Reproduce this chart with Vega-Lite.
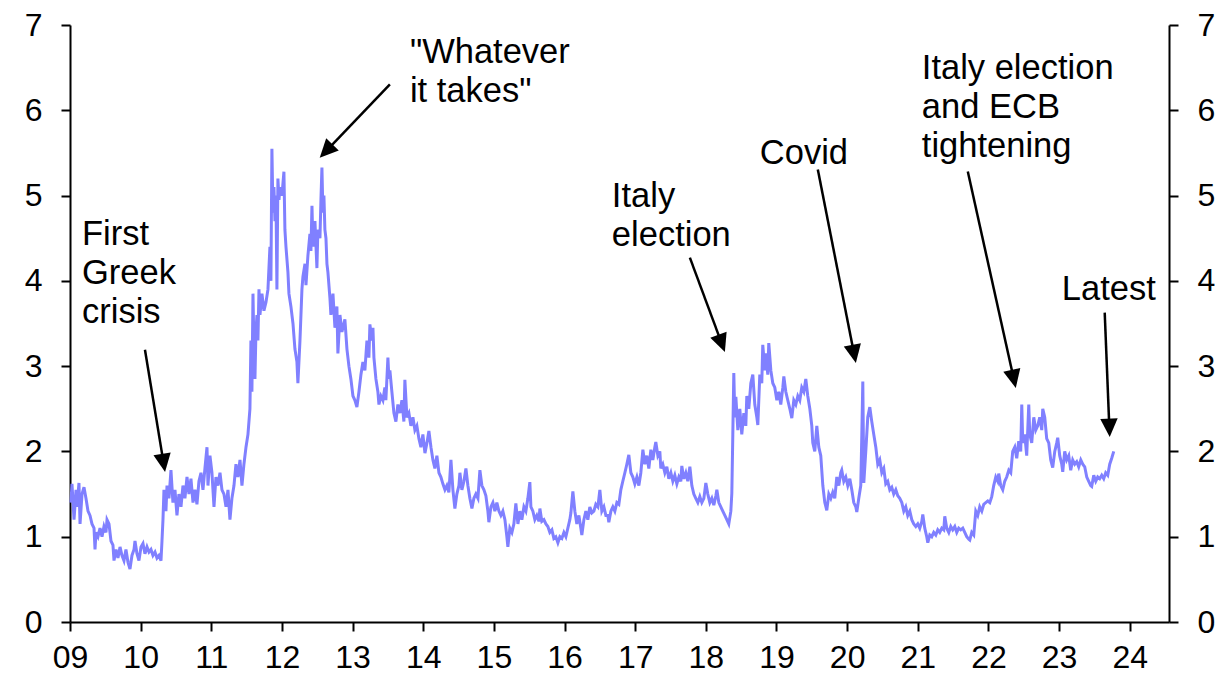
{
"$schema": "https://vega.github.io/schema/vega-lite/v6.json",
"width": 1099, "height": 597,
"autosize": {"type": "none"},
"padding": {"left": 70, "top": 25, "right": 55, "bottom": 57},
"background": "white",
"config": {"view": {"stroke": null}, "font": "Liberation Sans",
  "axis": {"domainColor": "black", "domainWidth": 2, "tickColor": "black", "tickWidth": 2, "tickSize": 9, "labelFont": "Liberation Sans", "labelFontSize": 32, "labelColor": "black", "grid": false}},
"datasets": {
"series": [
{"t":2009.014,"v":1.40},{"t":2009.028,"v":1.62},{"t":2009.057,"v":1.20},{"t":2009.085,"v":1.55},{"t":2009.099,"v":1.35},{"t":2009.127,"v":1.63},{"t":2009.142,"v":1.15},{"t":2009.170,"v":1.50},{"t":2009.198,"v":1.58},{"t":2009.226,"v":1.45},{"t":2009.255,"v":1.30},{"t":2009.283,"v":1.25},{"t":2009.311,"v":1.15},{"t":2009.340,"v":1.10},{"t":2009.354,"v":0.85},{"t":2009.368,"v":1.05},{"t":2009.396,"v":1.00},{"t":2009.425,"v":1.10},{"t":2009.453,"v":1.00},{"t":2009.481,"v":1.12},{"t":2009.509,"v":1.05},{"t":2009.524,"v":1.20},{"t":2009.552,"v":1.15},{"t":2009.580,"v":0.95},{"t":2009.608,"v":0.90},{"t":2009.623,"v":0.72},{"t":2009.651,"v":0.85},{"t":2009.679,"v":0.75},{"t":2009.708,"v":0.88},{"t":2009.736,"v":0.78},{"t":2009.764,"v":0.72},{"t":2009.792,"v":0.85},{"t":2009.821,"v":0.70},{"t":2009.849,"v":0.62},{"t":2009.877,"v":0.78},{"t":2009.906,"v":0.85},{"t":2009.920,"v":0.95},{"t":2009.948,"v":0.80},{"t":2009.976,"v":0.72},
{"t":2010.005,"v":0.88},{"t":2010.033,"v":0.92},{"t":2010.061,"v":0.80},{"t":2010.090,"v":0.88},{"t":2010.118,"v":0.82},{"t":2010.146,"v":0.85},{"t":2010.174,"v":0.78},{"t":2010.203,"v":0.82},{"t":2010.231,"v":0.75},{"t":2010.259,"v":0.78},{"t":2010.288,"v":0.72},{"t":2010.302,"v":0.95},{"t":2010.316,"v":1.20},{"t":2010.330,"v":1.55},{"t":2010.358,"v":1.30},{"t":2010.373,"v":1.60},{"t":2010.401,"v":1.45},{"t":2010.429,"v":1.78},{"t":2010.457,"v":1.40},{"t":2010.486,"v":1.55},{"t":2010.514,"v":1.25},{"t":2010.542,"v":1.50},{"t":2010.571,"v":1.35},{"t":2010.599,"v":1.60},{"t":2010.627,"v":1.45},{"t":2010.656,"v":1.70},{"t":2010.684,"v":1.50},{"t":2010.712,"v":1.68},{"t":2010.741,"v":1.40},{"t":2010.769,"v":1.55},{"t":2010.797,"v":1.38},{"t":2010.825,"v":1.65},{"t":2010.854,"v":1.75},{"t":2010.882,"v":1.55},{"t":2010.910,"v":1.80},{"t":2010.939,"v":2.05},{"t":2010.953,"v":1.60},{"t":2010.981,"v":1.95},
{"t":2011.009,"v":1.75},{"t":2011.038,"v":1.35},{"t":2011.066,"v":1.70},{"t":2011.094,"v":1.60},{"t":2011.123,"v":1.75},{"t":2011.151,"v":1.55},{"t":2011.179,"v":1.50},{"t":2011.208,"v":1.35},{"t":2011.236,"v":1.55},{"t":2011.264,"v":1.20},{"t":2011.292,"v":1.45},{"t":2011.321,"v":1.60},{"t":2011.349,"v":1.85},{"t":2011.377,"v":1.70},{"t":2011.406,"v":1.90},{"t":2011.434,"v":1.60},{"t":2011.462,"v":1.85},{"t":2011.491,"v":2.05},{"t":2011.519,"v":2.20},{"t":2011.547,"v":2.50},{"t":2011.561,"v":3.30},{"t":2011.575,"v":2.70},{"t":2011.590,"v":3.85},{"t":2011.604,"v":3.20},{"t":2011.618,"v":2.85},{"t":2011.632,"v":3.40},{"t":2011.646,"v":3.60},{"t":2011.660,"v":3.30},{"t":2011.675,"v":3.90},{"t":2011.689,"v":3.60},{"t":2011.717,"v":3.85},{"t":2011.745,"v":3.65},{"t":2011.774,"v":3.75},{"t":2011.802,"v":3.90},{"t":2011.830,"v":4.40},{"t":2011.844,"v":4.00},{"t":2011.858,"v":5.55},{"t":2011.873,"v":4.80},{"t":2011.887,"v":5.10},{"t":2011.901,"v":4.70},{"t":2011.915,"v":5.00},{"t":2011.929,"v":3.90},{"t":2011.943,"v":5.20},{"t":2011.958,"v":4.95},{"t":2011.972,"v":5.10},
{"t":2012.000,"v":5.00},{"t":2012.028,"v":5.28},{"t":2012.042,"v":4.60},{"t":2012.057,"v":4.40},{"t":2012.085,"v":4.10},{"t":2012.099,"v":3.85},{"t":2012.127,"v":3.70},{"t":2012.156,"v":3.50},{"t":2012.184,"v":3.20},{"t":2012.212,"v":3.05},{"t":2012.226,"v":2.80},{"t":2012.255,"v":3.30},{"t":2012.283,"v":3.90},{"t":2012.297,"v":4.05},{"t":2012.326,"v":4.20},{"t":2012.340,"v":3.95},{"t":2012.368,"v":4.30},{"t":2012.396,"v":4.55},{"t":2012.410,"v":4.35},{"t":2012.425,"v":4.88},{"t":2012.439,"v":4.40},{"t":2012.467,"v":4.70},{"t":2012.495,"v":4.15},{"t":2012.509,"v":4.60},{"t":2012.538,"v":4.50},{"t":2012.552,"v":4.95},{"t":2012.566,"v":5.33},{"t":2012.580,"v":4.80},{"t":2012.594,"v":5.00},{"t":2012.608,"v":4.60},{"t":2012.623,"v":4.50},{"t":2012.637,"v":4.20},{"t":2012.651,"v":4.10},{"t":2012.679,"v":3.80},{"t":2012.693,"v":3.60},{"t":2012.722,"v":3.85},{"t":2012.750,"v":3.45},{"t":2012.778,"v":3.70},{"t":2012.792,"v":3.15},{"t":2012.821,"v":3.60},{"t":2012.849,"v":3.40},{"t":2012.891,"v":3.55},{"t":2012.920,"v":3.20},{"t":2012.948,"v":3.00},{"t":2012.976,"v":2.85},
{"t":2013.005,"v":2.65},{"t":2013.033,"v":2.60},{"t":2013.061,"v":2.52},{"t":2013.090,"v":2.70},{"t":2013.118,"v":2.90},{"t":2013.146,"v":3.05},{"t":2013.174,"v":2.95},{"t":2013.203,"v":3.30},{"t":2013.231,"v":3.10},{"t":2013.245,"v":3.49},{"t":2013.273,"v":3.30},{"t":2013.288,"v":3.45},{"t":2013.302,"v":3.10},{"t":2013.330,"v":2.85},{"t":2013.358,"v":2.70},{"t":2013.373,"v":2.55},{"t":2013.401,"v":2.65},{"t":2013.429,"v":2.60},{"t":2013.457,"v":2.75},{"t":2013.471,"v":2.60},{"t":2013.500,"v":3.10},{"t":2013.514,"v":2.85},{"t":2013.528,"v":2.95},{"t":2013.556,"v":2.70},{"t":2013.585,"v":2.45},{"t":2013.613,"v":2.35},{"t":2013.641,"v":2.55},{"t":2013.670,"v":2.45},{"t":2013.698,"v":2.60},{"t":2013.726,"v":2.35},{"t":2013.740,"v":2.84},{"t":2013.769,"v":2.40},{"t":2013.797,"v":2.45},{"t":2013.825,"v":2.30},{"t":2013.854,"v":2.40},{"t":2013.882,"v":2.25},{"t":2013.910,"v":2.30},{"t":2013.939,"v":2.15},{"t":2013.967,"v":2.05},{"t":2013.995,"v":2.20},
{"t":2014.024,"v":1.98},{"t":2014.052,"v":2.10},{"t":2014.080,"v":2.24},{"t":2014.109,"v":2.05},{"t":2014.137,"v":1.90},{"t":2014.165,"v":1.80},{"t":2014.193,"v":1.95},{"t":2014.222,"v":1.75},{"t":2014.250,"v":1.70},{"t":2014.278,"v":1.62},{"t":2014.307,"v":1.55},{"t":2014.335,"v":1.60},{"t":2014.363,"v":1.52},{"t":2014.392,"v":1.90},{"t":2014.420,"v":1.55},{"t":2014.448,"v":1.33},{"t":2014.476,"v":1.50},{"t":2014.505,"v":1.60},{"t":2014.519,"v":1.75},{"t":2014.547,"v":1.55},{"t":2014.576,"v":1.65},{"t":2014.604,"v":1.80},{"t":2014.632,"v":1.60},{"t":2014.660,"v":1.45},{"t":2014.689,"v":1.33},{"t":2014.717,"v":1.45},{"t":2014.745,"v":1.50},{"t":2014.774,"v":1.45},{"t":2014.802,"v":1.78},{"t":2014.830,"v":1.60},{"t":2014.859,"v":1.55},{"t":2014.887,"v":1.48},{"t":2014.915,"v":1.30},{"t":2014.929,"v":1.17},{"t":2014.958,"v":1.35},{"t":2014.986,"v":1.40},
{"t":2015.014,"v":1.30},{"t":2015.042,"v":1.40},{"t":2015.071,"v":1.30},{"t":2015.099,"v":1.25},{"t":2015.127,"v":1.30},{"t":2015.156,"v":1.20},{"t":2015.184,"v":1.00},{"t":2015.198,"v":0.88},{"t":2015.226,"v":1.10},{"t":2015.255,"v":1.05},{"t":2015.283,"v":1.15},{"t":2015.311,"v":1.39},{"t":2015.340,"v":1.15},{"t":2015.368,"v":1.30},{"t":2015.396,"v":1.20},{"t":2015.425,"v":1.35},{"t":2015.453,"v":1.30},{"t":2015.481,"v":1.45},{"t":2015.509,"v":1.64},{"t":2015.524,"v":1.35},{"t":2015.552,"v":1.30},{"t":2015.580,"v":1.20},{"t":2015.608,"v":1.25},{"t":2015.637,"v":1.18},{"t":2015.651,"v":1.33},{"t":2015.679,"v":1.18},{"t":2015.708,"v":1.20},{"t":2015.736,"v":1.15},{"t":2015.764,"v":1.12},{"t":2015.792,"v":1.05},{"t":2015.821,"v":1.08},{"t":2015.849,"v":0.98},{"t":2015.877,"v":1.00},{"t":2015.906,"v":0.93},{"t":2015.934,"v":1.00},{"t":2015.962,"v":0.98},{"t":2015.991,"v":1.05},
{"t":2016.019,"v":1.00},{"t":2016.047,"v":1.10},{"t":2016.075,"v":1.20},{"t":2016.090,"v":1.28},{"t":2016.118,"v":1.53},{"t":2016.146,"v":1.30},{"t":2016.174,"v":1.15},{"t":2016.203,"v":1.25},{"t":2016.231,"v":1.10},{"t":2016.245,"v":1.02},{"t":2016.274,"v":1.20},{"t":2016.302,"v":1.30},{"t":2016.330,"v":1.20},{"t":2016.358,"v":1.35},{"t":2016.387,"v":1.28},{"t":2016.415,"v":1.30},{"t":2016.443,"v":1.38},{"t":2016.472,"v":1.35},{"t":2016.500,"v":1.55},{"t":2016.528,"v":1.30},{"t":2016.557,"v":1.35},{"t":2016.585,"v":1.25},{"t":2016.613,"v":1.25},{"t":2016.627,"v":1.17},{"t":2016.656,"v":1.30},{"t":2016.684,"v":1.35},{"t":2016.712,"v":1.30},{"t":2016.741,"v":1.40},{"t":2016.769,"v":1.38},{"t":2016.797,"v":1.55},{"t":2016.825,"v":1.65},{"t":2016.854,"v":1.75},{"t":2016.882,"v":1.85},{"t":2016.910,"v":1.96},{"t":2016.939,"v":1.75},{"t":2016.967,"v":1.70},{"t":2016.995,"v":1.62},
{"t":2017.024,"v":1.70},{"t":2017.052,"v":1.60},{"t":2017.080,"v":1.75},{"t":2017.109,"v":2.02},{"t":2017.137,"v":1.85},{"t":2017.165,"v":1.95},{"t":2017.193,"v":1.80},{"t":2017.222,"v":2.02},{"t":2017.250,"v":1.90},{"t":2017.278,"v":2.05},{"t":2017.292,"v":2.11},{"t":2017.321,"v":1.95},{"t":2017.349,"v":2.00},{"t":2017.363,"v":1.80},{"t":2017.391,"v":1.85},{"t":2017.420,"v":1.75},{"t":2017.448,"v":1.82},{"t":2017.476,"v":1.68},{"t":2017.505,"v":1.75},{"t":2017.533,"v":1.65},{"t":2017.561,"v":1.72},{"t":2017.590,"v":1.62},{"t":2017.618,"v":1.70},{"t":2017.646,"v":1.65},{"t":2017.660,"v":1.83},{"t":2017.689,"v":1.68},{"t":2017.717,"v":1.75},{"t":2017.745,"v":1.65},{"t":2017.774,"v":1.82},{"t":2017.802,"v":1.60},{"t":2017.830,"v":1.50},{"t":2017.858,"v":1.45},{"t":2017.887,"v":1.40},{"t":2017.915,"v":1.47},{"t":2017.943,"v":1.40},{"t":2017.972,"v":1.45},
{"t":2018.000,"v":1.63},{"t":2018.028,"v":1.50},{"t":2018.057,"v":1.40},{"t":2018.085,"v":1.45},{"t":2018.113,"v":1.37},{"t":2018.142,"v":1.48},{"t":2018.156,"v":1.55},{"t":2018.184,"v":1.40},{"t":2018.212,"v":1.35},{"t":2018.240,"v":1.30},{"t":2018.269,"v":1.25},{"t":2018.297,"v":1.20},{"t":2018.325,"v":1.15},{"t":2018.354,"v":1.30},{"t":2018.368,"v":1.51},{"t":2018.382,"v":2.20},{"t":2018.396,"v":2.92},{"t":2018.410,"v":2.40},{"t":2018.425,"v":2.64},{"t":2018.453,"v":2.25},{"t":2018.481,"v":2.50},{"t":2018.509,"v":2.20},{"t":2018.538,"v":2.45},{"t":2018.566,"v":2.30},{"t":2018.580,"v":2.65},{"t":2018.608,"v":2.50},{"t":2018.637,"v":2.80},{"t":2018.665,"v":2.90},{"t":2018.693,"v":2.55},{"t":2018.722,"v":2.40},{"t":2018.736,"v":2.31},{"t":2018.764,"v":2.90},{"t":2018.792,"v":2.80},{"t":2018.806,"v":3.25},{"t":2018.835,"v":2.95},{"t":2018.849,"v":3.15},{"t":2018.877,"v":2.90},{"t":2018.891,"v":3.27},{"t":2018.920,"v":2.95},{"t":2018.948,"v":2.80},{"t":2018.976,"v":2.75},
{"t":2019.005,"v":2.60},{"t":2019.033,"v":2.70},{"t":2019.061,"v":2.55},{"t":2019.090,"v":2.75},{"t":2019.104,"v":2.88},{"t":2019.132,"v":2.70},{"t":2019.160,"v":2.60},{"t":2019.189,"v":2.50},{"t":2019.217,"v":2.39},{"t":2019.245,"v":2.60},{"t":2019.274,"v":2.55},{"t":2019.302,"v":2.65},{"t":2019.330,"v":2.60},{"t":2019.358,"v":2.75},{"t":2019.387,"v":2.70},{"t":2019.415,"v":2.85},{"t":2019.443,"v":2.65},{"t":2019.472,"v":2.50},{"t":2019.500,"v":2.30},{"t":2019.514,"v":2.10},{"t":2019.542,"v":2.00},{"t":2019.571,"v":2.30},{"t":2019.599,"v":2.05},{"t":2019.627,"v":1.95},{"t":2019.656,"v":1.60},{"t":2019.684,"v":1.40},{"t":2019.712,"v":1.31},{"t":2019.741,"v":1.50},{"t":2019.769,"v":1.45},{"t":2019.797,"v":1.52},{"t":2019.825,"v":1.45},{"t":2019.854,"v":1.70},{"t":2019.882,"v":1.60},{"t":2019.910,"v":1.75},{"t":2019.924,"v":1.78},{"t":2019.953,"v":1.65},{"t":2019.981,"v":1.70},
{"t":2020.009,"v":1.60},{"t":2020.038,"v":1.68},{"t":2020.066,"v":1.55},{"t":2020.094,"v":1.40},{"t":2020.123,"v":1.35},{"t":2020.137,"v":1.29},{"t":2020.165,"v":1.45},{"t":2020.193,"v":1.60},{"t":2020.208,"v":2.20},{"t":2020.222,"v":2.82},{"t":2020.236,"v":1.63},{"t":2020.264,"v":2.00},{"t":2020.292,"v":2.40},{"t":2020.321,"v":2.52},{"t":2020.349,"v":2.35},{"t":2020.377,"v":2.20},{"t":2020.406,"v":2.05},{"t":2020.434,"v":1.85},{"t":2020.462,"v":1.90},{"t":2020.491,"v":1.75},{"t":2020.519,"v":1.80},{"t":2020.547,"v":1.62},{"t":2020.575,"v":1.65},{"t":2020.604,"v":1.55},{"t":2020.632,"v":1.58},{"t":2020.660,"v":1.50},{"t":2020.689,"v":1.55},{"t":2020.717,"v":1.48},{"t":2020.745,"v":1.45},{"t":2020.774,"v":1.40},{"t":2020.802,"v":1.30},{"t":2020.830,"v":1.35},{"t":2020.858,"v":1.25},{"t":2020.887,"v":1.30},{"t":2020.915,"v":1.20},{"t":2020.943,"v":1.15},{"t":2020.972,"v":1.12},
{"t":2021.000,"v":1.15},{"t":2021.028,"v":1.10},{"t":2021.057,"v":1.18},{"t":2021.071,"v":1.26},{"t":2021.099,"v":1.10},{"t":2021.127,"v":1.00},{"t":2021.142,"v":0.93},{"t":2021.170,"v":1.02},{"t":2021.198,"v":1.00},{"t":2021.226,"v":1.05},{"t":2021.255,"v":1.02},{"t":2021.283,"v":1.08},{"t":2021.311,"v":1.05},{"t":2021.340,"v":1.10},{"t":2021.368,"v":1.08},{"t":2021.382,"v":1.24},{"t":2021.410,"v":1.10},{"t":2021.439,"v":1.05},{"t":2021.467,"v":1.12},{"t":2021.495,"v":1.08},{"t":2021.524,"v":1.12},{"t":2021.552,"v":1.05},{"t":2021.580,"v":1.10},{"t":2021.608,"v":1.08},{"t":2021.637,"v":1.10},{"t":2021.665,"v":1.05},{"t":2021.693,"v":1.00},{"t":2021.722,"v":0.97},{"t":2021.736,"v":0.96},{"t":2021.764,"v":1.05},{"t":2021.792,"v":1.02},{"t":2021.821,"v":1.30},{"t":2021.849,"v":1.25},{"t":2021.877,"v":1.35},{"t":2021.906,"v":1.30},{"t":2021.934,"v":1.38},{"t":2021.962,"v":1.40},{"t":2021.991,"v":1.42},
{"t":2022.019,"v":1.40},{"t":2022.047,"v":1.47},{"t":2022.075,"v":1.60},{"t":2022.104,"v":1.70},{"t":2022.132,"v":1.65},{"t":2022.146,"v":1.74},{"t":2022.174,"v":1.60},{"t":2022.203,"v":1.55},{"t":2022.231,"v":1.65},{"t":2022.259,"v":1.70},{"t":2022.288,"v":1.78},{"t":2022.316,"v":1.75},{"t":2022.344,"v":2.00},{"t":2022.373,"v":2.05},{"t":2022.401,"v":1.92},{"t":2022.429,"v":2.12},{"t":2022.457,"v":2.00},{"t":2022.472,"v":2.55},{"t":2022.486,"v":2.10},{"t":2022.514,"v":2.20},{"t":2022.542,"v":1.95},{"t":2022.571,"v":2.55},{"t":2022.585,"v":2.20},{"t":2022.613,"v":2.10},{"t":2022.642,"v":2.40},{"t":2022.670,"v":2.25},{"t":2022.698,"v":2.30},{"t":2022.726,"v":2.40},{"t":2022.755,"v":2.25},{"t":2022.769,"v":2.50},{"t":2022.797,"v":2.40},{"t":2022.825,"v":2.15},{"t":2022.854,"v":2.10},{"t":2022.882,"v":1.90},{"t":2022.910,"v":1.81},{"t":2022.939,"v":2.00},{"t":2022.967,"v":2.10},{"t":2022.981,"v":2.16},
{"t":2023.009,"v":1.95},{"t":2023.038,"v":1.85},{"t":2023.052,"v":1.76},{"t":2023.080,"v":2.00},{"t":2023.108,"v":1.90},{"t":2023.137,"v":1.95},{"t":2023.165,"v":1.78},{"t":2023.193,"v":1.90},{"t":2023.222,"v":1.85},{"t":2023.250,"v":1.88},{"t":2023.278,"v":1.82},{"t":2023.307,"v":1.90},{"t":2023.335,"v":1.85},{"t":2023.363,"v":1.82},{"t":2023.392,"v":1.70},{"t":2023.420,"v":1.65},{"t":2023.448,"v":1.60},{"t":2023.462,"v":1.59},{"t":2023.491,"v":1.72},{"t":2023.519,"v":1.65},{"t":2023.547,"v":1.70},{"t":2023.575,"v":1.68},{"t":2023.604,"v":1.72},{"t":2023.632,"v":1.68},{"t":2023.660,"v":1.75},{"t":2023.689,"v":1.72},{"t":2023.717,"v":1.85},{"t":2023.745,"v":1.92},{"t":2023.774,"v":2.00}
],
"arrows": [
{"t":2010.061,"v":3.192,"t2":2010.322,"v2":1.877,"angle":170.7},
{"t":2013.528,"v":6.303,"t2":2012.635,"v2":5.531,"angle":223.8},
{"t":2017.774,"v":4.272,"t2":2018.219,"v2":3.279,"angle":159.6},
{"t":2019.585,"v":5.305,"t2":2020.096,"v2":3.155,"angle":168.9},
{"t":2021.708,"v":5.282,"t2":2022.356,"v2":2.862,"angle":167.5},
{"t":2023.646,"v":3.627,"t2":2023.711,"v2":2.289,"angle":177.7}
],
"labels": [
{"t":2009.170,"v":4.425,"label":"First\nGreek\ncrisis"},
{"t":2013.811,"v":6.549,"label":"\"Whatever\nit takes\""},
{"t":2016.670,"v":4.871,"label":"Italy\nelection"},
{"t":2018.764,"v":5.376,"label":"Covid"},
{"t":2021.057,"v":6.362,"label":"Italy election\nand ECB\ntightening"},
{"t":2023.038,"v":3.779,"label":"Latest"}
]
},
"layer": [
{"data": {"name": "series"},
 "mark": {"type": "line", "color": "#8080ff", "strokeWidth": 3},
 "encoding": {
  "x": {"field": "t", "type": "quantitative", "scale": {"domain": [2009, 2024.556], "nice": false, "zero": false},
        "axis": {"title": null, "values": [2009,2010,2011,2012,2013,2014,2015,2016,2017,2018,2019,2020,2021,2022,2023,2024], "labelExpr": "substring(toString(datum.value), 2)", "labelPadding": 11, "labelFlush": false, "labelOverlap": false}},
  "y": {"field": "v", "type": "quantitative", "scale": {"domain": [0, 7], "nice": false},
        "axis": {"title": null, "orient": "left", "values": [0,1,2,3,4,5,6,7], "labelPadding": 19}}
 }},
{"data": {"name": "series"},
 "mark": {"type": "line", "opacity": 0},
 "encoding": {
  "x": {"field": "t", "type": "quantitative", "axis": {"title": null}},
  "y": {"field": "v", "type": "quantitative", "scale": {"domain": [0, 7], "nice": false},
        "axis": {"title": null, "orient": "right", "values": [0,1,2,3,4,5,6,7], "labelPadding": 19}}
 }},
{"data": {"name": "arrows"},
 "mark": {"type": "rule", "color": "black", "strokeWidth": 2.5},
 "encoding": {
  "x": {"field": "t", "type": "quantitative", "axis": {"title": null}},
  "y": {"field": "v", "type": "quantitative", "scale": {"domain": [0, 7], "nice": false}, "axis": null},
  "x2": {"field": "t2"},
  "y2": {"field": "v2"}
 }},
{"data": {"name": "arrows"},
 "mark": {"type": "point", "shape": "M0,-1L0.85,0.8L-0.85,0.8Z", "filled": true, "color": "black", "opacity": 1, "size": 420, "strokeWidth": 0},
 "encoding": {
  "x": {"field": "t2", "type": "quantitative", "axis": {"title": null}},
  "y": {"field": "v2", "type": "quantitative", "scale": {"domain": [0, 7], "nice": false}, "axis": null},
  "angle": {"field": "angle", "type": "quantitative", "scale": null}
 }},
{"data": {"name": "labels"},
 "mark": {"type": "text", "align": "left", "baseline": "alphabetic", "font": "Liberation Sans", "fontSize": 34.5, "lineHeight": 39, "lineBreak": "\n", "color": "black"},
 "encoding": {
  "x": {"field": "t", "type": "quantitative", "axis": {"title": null}},
  "y": {"field": "v", "type": "quantitative", "scale": {"domain": [0, 7], "nice": false}, "axis": null},
  "text": {"field": "label"}
 }}
],
"resolve": {"scale": {"y": "independent"}}
}
